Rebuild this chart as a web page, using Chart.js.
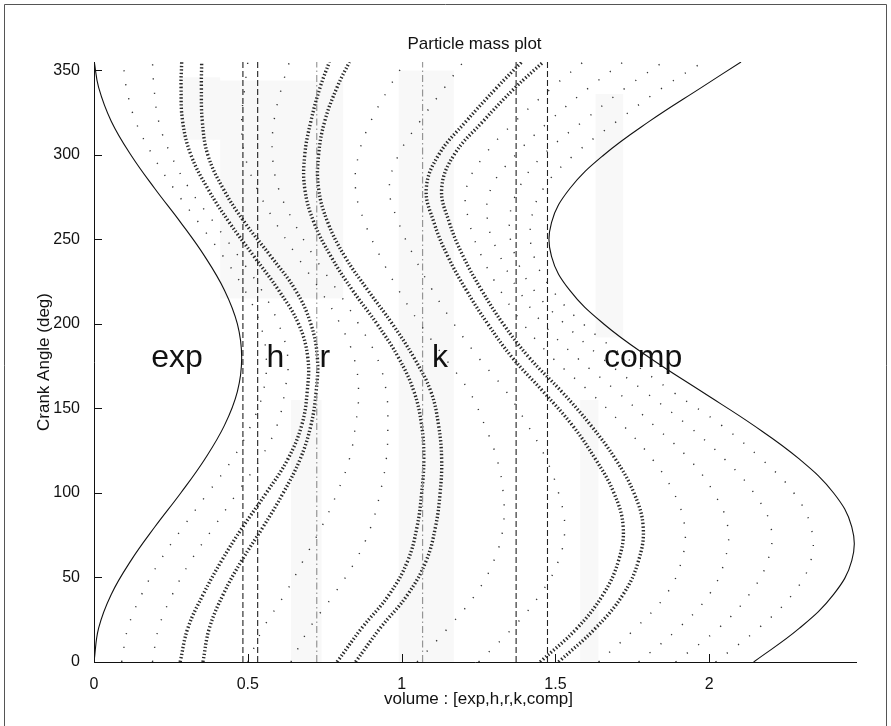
<!DOCTYPE html>
<html>
<head>
<meta charset="utf-8">
<script src="https://cdn.jsdelivr.net/npm/chart.js@4.4.0/dist/chart.umd.min.js"></script>
<style>
  html, body { margin: 0; padding: 0; background: #fff; }
  #wrap { width: 891px; height: 726px; }
</style>
</head>
<body>
<div id="wrap"><canvas id="demo" width="891" height="726"></canvas></div>
<script>
// crank angle samples (deg), shared by every curve below
const angles = [0, 20, 40, 60, 80, 100, 120, 140, 160, 180, 200, 220, 240, 260, 280, 300, 320, 340, 355];

// piston faces (solid)
const expFace  = [0, 0.015, 0.056, 0.12, 0.198, 0.282, 0.36, 0.424, 0.466, 0.48, 0.466, 0.424, 0.36, 0.282, 0.198, 0.12, 0.056, 0.015, 0.001];
const compFace = [2.144, 2.293, 2.404, 2.463, 2.463, 2.404, 2.293, 2.144, 1.975, 1.806, 1.657, 1.546, 1.487, 1.487, 1.546, 1.657, 1.806, 1.975, 2.103];

// tracked particles (heavy dotted pairs)
const aLeft  = [0.28, 0.305, 0.355, 0.415, 0.484, 0.56, 0.63, 0.675, 0.693, 0.695, 0.665, 0.60, 0.52, 0.44, 0.37, 0.315, 0.288, 0.283, 0.285];
const aRight = [0.354, 0.375, 0.42, 0.48, 0.55, 0.615, 0.67, 0.705, 0.722, 0.726, 0.705, 0.655, 0.575, 0.49, 0.42, 0.37, 0.352, 0.349, 0.35];
const bLeft  = [0.79, 0.87, 0.96, 1.02, 1.05, 1.065, 1.072, 1.065, 1.04, 0.99, 0.92, 0.84, 0.77, 0.715, 0.685, 0.685, 0.705, 0.735, 0.765];
const bRight = [0.85, 0.93, 1.02, 1.08, 1.11, 1.125, 1.13, 1.12, 1.095, 1.04, 0.97, 0.89, 0.815, 0.76, 0.73, 0.73, 0.75, 0.79, 0.83];
const dLeft  = [1.45, 1.57, 1.655, 1.705, 1.72, 1.69, 1.63, 1.555, 1.46, 1.36, 1.28, 1.21, 1.15, 1.105, 1.08, 1.12, 1.21, 1.31, 1.39];
const dRight = [1.51, 1.63, 1.72, 1.77, 1.785, 1.755, 1.695, 1.615, 1.52, 1.415, 1.33, 1.26, 1.20, 1.155, 1.13, 1.17, 1.265, 1.37, 1.46];

// other particles (sparse dots)
const expDots1  = [0.09, 0.11, 0.155, 0.215, 0.29, 0.37, 0.45, 0.51, 0.55, 0.56, 0.54, 0.49, 0.42, 0.34, 0.26, 0.19, 0.135, 0.105, 0.095];
const expDots2  = [0.19, 0.21, 0.255, 0.315, 0.39, 0.465, 0.54, 0.595, 0.62, 0.63, 0.60, 0.545, 0.47, 0.39, 0.31, 0.25, 0.21, 0.195, 0.19];
const hrDots1   = [0.50, 0.55, 0.62, 0.68, 0.74, 0.79, 0.83, 0.85, 0.86, 0.845, 0.80, 0.735, 0.66, 0.59, 0.53, 0.49, 0.48, 0.49, 0.50];
const hrDots2   = [0.64, 0.70, 0.78, 0.85, 0.90, 0.93, 0.95, 0.955, 0.95, 0.92, 0.86, 0.79, 0.715, 0.65, 0.60, 0.58, 0.585, 0.61, 0.635];
const kDots1    = [1.05, 1.15, 1.24, 1.30, 1.33, 1.33, 1.31, 1.27, 1.22, 1.14, 1.06, 0.99, 0.93, 0.88, 0.85, 0.86, 0.90, 0.96, 1.01];
const kDots2    = [1.25, 1.36, 1.45, 1.51, 1.53, 1.51, 1.47, 1.41, 1.34, 1.25, 1.17, 1.10, 1.04, 0.99, 0.96, 0.99, 1.06, 1.14, 1.20];
const compDots1 = [1.64, 1.76, 1.86, 1.91, 1.92, 1.885, 1.815, 1.72, 1.61, 1.49, 1.395, 1.32, 1.26, 1.22, 1.21, 1.27, 1.37, 1.49, 1.59];
const compDots2 = [1.77, 1.90, 2.00, 2.05, 2.06, 2.015, 1.935, 1.82, 1.70, 1.57, 1.46, 1.38, 1.32, 1.28, 1.29, 1.37, 1.48, 1.61, 1.72];
const compDots3 = [1.89, 2.03, 2.13, 2.19, 2.20, 2.145, 2.05, 1.93, 1.79, 1.65, 1.53, 1.43, 1.37, 1.35, 1.38, 1.46, 1.59, 1.73, 1.85];
const compDots4 = [2.02, 2.16, 2.27, 2.33, 2.33, 2.275, 2.17, 2.04, 1.88, 1.73, 1.59, 1.49, 1.43, 1.42, 1.46, 1.56, 1.70, 1.85, 1.98];

// faint grey density patches: [xFrom, xTo, angleFrom, angleTo]
const shadeBands = [
  [0.28, 0.41, 309, 346],
  [0.41, 0.81, 215, 344],
  [0.64, 0.74, 0, 155],
  [0.99, 1.17, 0, 350],
  [1.58, 1.64, 0, 155],
  [1.63, 1.72, 192, 336]
];

// region boundaries
const dashedX  = [0.484, 0.532, 1.372, 1.474];
const dashDotX = [0.724, 1.068];

// axes
const xTicks = [0, 0.5, 1, 1.5, 2];
const yTicks = [0, 50, 100, 150, 200, 250, 300, 350];
const xMax = 2.48;
const yMax = 355;

// region names written inside the plot
const regionNames = ["exp", "h", "r", "k", "comp"];
const regionX = [0.27, 0.59, 0.75, 1.125, 1.785];
const regionY = 180;

const FONT = '"Liberation Sans", Arial, Helvetica, sans-serif';

function pts(xs) {
  return xs.map((x, i) => ({ x: x, y: angles[i] }));
}

function vline(v) {
  return [{ x: v, y: 0 }, { x: v, y: yMax }];
}

const datasets = [];

shadeBands.forEach(b => {
  datasets.push({
    data: [{ x: b[0], y: b[2] }, { x: b[1], y: b[2] }, { x: b[1], y: b[3] }, { x: b[0], y: b[3] }, { x: b[0], y: b[2] }],
    showLine: true, pointRadius: 0, borderWidth: 0, borderColor: "rgba(0,0,0,0)",
    backgroundColor: "rgba(0,0,0,0.028)", fill: "shape"
  });
});

[expDots1, expDots2, hrDots1, hrDots2, kDots1, kDots2, compDots1, compDots2, compDots3, compDots4].forEach(d => {
  datasets.push({
    data: pts(d), showLine: true, tension: 0.4, pointRadius: 0,
    borderColor: "#333", borderWidth: 1.4, borderDash: [1.2, 13], borderCapStyle: "butt"
  });
});

dashDotX.forEach(v => {
  datasets.push({
    data: vline(v), showLine: true, pointRadius: 0,
    borderColor: "#9a9a9a", borderWidth: 1.2, borderDash: [7, 3, 1.5, 3]
  });
});

dashedX.forEach(v => {
  datasets.push({
    data: vline(v), showLine: true, pointRadius: 0,
    borderColor: "#222", borderWidth: 1.1, borderDash: [6, 3]
  });
});

[expFace, compFace].forEach(d => {
  datasets.push({
    data: pts(d), showLine: true, tension: 0.4, pointRadius: 0,
    borderColor: "#111", borderWidth: 1.1
  });
});

[aLeft, aRight, bLeft, bRight, dLeft, dRight].forEach(d => {
  datasets.push({
    data: pts(d), showLine: true, tension: 0.4, pointRadius: 0,
    borderColor: "#2a2a2a", borderWidth: 3.4, borderDash: [1.4, 2.1], borderCapStyle: "butt"
  });
});

const decor = {
  id: "decor",
  beforeDraw(chart) {
    const c = chart.ctx;
    c.save();
    c.fillStyle = "#fff";
    c.fillRect(0, 0, chart.width, chart.height);
    // figure frame
    c.strokeStyle = "#555";
    c.lineWidth = 1;
    c.beginPath();
    c.moveTo(4.5, 726);
    c.lineTo(4.5, 4.5);
    c.lineTo(886.5, 4.5);
    c.lineTo(886.5, 726);
    c.stroke();
    c.restore();
  },
  afterDraw(chart) {
    const c = chart.ctx;
    const a = chart.chartArea;
    const x = chart.scales.x;
    const y = chart.scales.y;
    c.save();
    // axes lines and inward ticks
    c.strokeStyle = "#111";
    c.lineWidth = 1;
    c.beginPath();
    c.moveTo(a.left + 0.5, a.top);
    c.lineTo(a.left + 0.5, a.bottom + 0.5);
    c.lineTo(a.right, a.bottom + 0.5);
    x.ticks.forEach(t => {
      const px = Math.round(x.getPixelForValue(t.value)) + 0.5;
      c.moveTo(px, a.bottom);
      c.lineTo(px, a.bottom - 8);
    });
    y.ticks.forEach(t => {
      const py = Math.round(y.getPixelForValue(t.value)) + 0.5;
      c.moveTo(a.left, py);
      c.lineTo(a.left + 8, py);
    });
    c.stroke();

    c.fillStyle = "#111";
    c.textAlign = "center";
    c.textBaseline = "middle";
    c.font = "17px " + FONT;
    const cx = (a.left + a.right) / 2;
    c.fillText("Particle mass plot", cx - 1, 44);
    c.fillText("volume : [exp,h,r,k,comp]", cx + 3, 699);
    c.save();
    c.translate(44, (a.top + a.bottom) / 2);
    c.rotate(-Math.PI / 2);
    c.fillText("Crank Angle (deg)", 0, 0);
    c.restore();

    c.font = "32px " + FONT;
    regionNames.forEach((n, i) => {
      c.fillText(n, x.getPixelForValue(regionX[i]), y.getPixelForValue(regionY));
    });
    c.restore();
  }
};

new Chart(document.getElementById("demo").getContext("2d"), {
  type: "scatter",
  data: { datasets: datasets },
  options: {
    responsive: false,
    animation: false,
    devicePixelRatio: 1,
    layout: { padding: { left: 0, right: 34, top: 62, bottom: 0 } },
    plugins: { legend: { display: false }, tooltip: { enabled: false }, title: { display: false } },
    elements: { line: { fill: false } },
    scales: {
      x: {
        type: "linear", min: 0, max: xMax,
        afterBuildTicks: s => { s.ticks = xTicks.map(v => ({ value: v })); },
        afterFit: s => { s.height = 64; },
        grid: { display: false }, border: { display: false },
        ticks: { color: "#111", font: { family: FONT, size: 16 }, padding: 5, maxRotation: 0, callback: v => String(v) }
      },
      y: {
        type: "linear", min: 0, max: yMax,
        afterBuildTicks: s => { s.ticks = yTicks.map(v => ({ value: v })); },
        afterFit: s => { s.width = 94; },
        grid: { display: false }, border: { display: false },
        ticks: { color: "#111", font: { family: FONT, size: 16 }, padding: 6, callback: v => String(v) }
      }
    }
  },
  plugins: [decor]
});
</script>
</body>
</html>
